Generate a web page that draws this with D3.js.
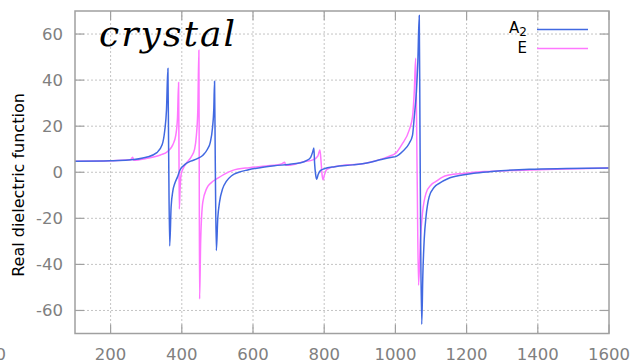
<!DOCTYPE html>
<html>
<head>
<meta charset="utf-8">
<script src="https://cdn.jsdelivr.net/npm/d3@7"></script>
<style>
body { margin: 0; background: #fff; }
svg { display: block; }
.tick-label { font-family: "DejaVu Sans", sans-serif; font-size: 16.5px; fill: #808080; }
</style>
</head>
<body>
<svg width="636" height="364"></svg>
<script>
// wavenumber (x) and real dielectric function (y)
var xA2 = [100, 200, 250, 300, 330, 345, 352, 357, 361, 363, 366, 370, 375, 380, 388, 395, 410, 425, 445, 460, 472, 480, 486, 490, 492, 494, 497, 501, 506, 515, 525, 540, 560, 585, 620, 660, 700, 730, 750, 762, 768, 771, 773, 776, 779, 783, 790, 800, 830, 880, 920, 960, 990, 1001, 1020, 1039, 1048, 1053, 1059, 1063, 1067, 1069, 1071, 1074, 1077, 1081, 1086, 1095, 1109, 1123, 1147, 1188, 1220, 1270, 1376, 1480, 1600];
var yA2 = [4.8, 5.0, 5.3, 6.5, 8.5, 12, 18, 27, 45, 10, -32, -15, -8, -5, -2, 1, 3.5, 4.8, 6, 7.5, 10, 13, 19, 28, 39.5, 5, -34, -20, -13, -7, -4, -1.5, 0, 1, 2, 2.8, 3.4, 4, 5, 6.5, 9, 10.5, 4, -1, -3, -1, 0.8, 1.5, 2.4, 3.2, 4, 5.5, 6.5, 6.8, 9, 12.6, 16, 24, 35, 48, 68, 20, -30, -66, -45, -29, -19.3, -10.6, -6.5, -4.8, -2.8, -1.2, -0.4, 0.3, 1.3, 1.6, 1.8];

var xE = [100, 200, 255, 262, 265, 300, 340, 360, 375, 383, 388, 391, 392, 393, 395, 398, 405, 413, 427, 436, 441, 445, 448, 449, 450, 453, 459, 470, 483, 501, 520, 543, 590, 637, 680, 689, 692, 700, 740, 770, 782, 788, 791, 794, 797, 801, 806, 815, 832, 916, 980, 1001, 1018, 1039, 1048, 1053, 1057, 1061, 1065, 1070, 1076, 1086, 1100, 1114, 1131, 1151, 1190, 1250, 1336, 1450, 1600];
var yE = [4.8, 5.0, 5.4, 6.5, 5.2, 6, 7.5, 9, 12, 16, 24, 39, 10, -16, -8, -1, 2, 4, 6.8, 10, 16, 27, 53, 0, -55, -30, -13, -7, -4.5, -2.6, -0.8, 0.8, 2, 2.7, 3.6, 4.3, 3, 3, 4.5, 5.5, 7, 9.7, 5, -1, -3.3, -1, 1, 1.8, 2.5, 3.9, 6.8, 8.3, 12, 18.4, 24, 35, 49.5, 0, -49, -30, -17.8, -9.1, -5.5, -4, -2.2, -1.2, -0.5, 0.3, 0.8, 1.3, 1.8];

var xTicks = [200, 400, 600, 800, 1000, 1200, 1400, 1600];
var yTicks = [-60, -40, -20, 0, 20, 40, 60];
var seriesNames = ["A", "E"];

var svg = d3.select("svg");
var m = {left: 75, right: 609, top: 11, bottom: 333.5};

var x = d3.scaleLinear().domain([100, 1600]).range([m.left, m.right]);
var y = d3.scaleLinear().domain([-70, 70]).range([m.bottom, m.top]);

// grid
var grid = svg.append("g");
grid.selectAll(".gx")
  .data(xTicks.filter(function(d) { return d < 1600; }))
  .enter().append("line")
  .attr("x1", function(d) { return x(d); })
  .attr("x2", function(d) { return x(d); })
  .attr("y1", m.top).attr("y2", m.bottom)
  .attr("stroke", "#c4c4c4").attr("stroke-width", 1)
  .attr("stroke-dasharray", "2,2");
grid.selectAll(".gy")
  .data(yTicks)
  .enter().append("line")
  .attr("x1", m.left).attr("x2", m.right)
  .attr("y1", function(d) { return y(d); })
  .attr("y2", function(d) { return y(d); })
  .attr("stroke", "#c4c4c4").attr("stroke-width", 1)
  .attr("stroke-dasharray", "2,2");

// inner ticks on all four sides
var tk = svg.append("g").attr("stroke", "#a0a0a0").attr("stroke-width", 1.2);
xTicks.forEach(function(d) {
  tk.append("line").attr("x1", x(d)).attr("x2", x(d)).attr("y1", m.bottom).attr("y2", m.bottom - 9);
  tk.append("line").attr("x1", x(d)).attr("x2", x(d)).attr("y1", m.top).attr("y2", m.top + 9);
});
yTicks.forEach(function(d) {
  tk.append("line").attr("x1", m.left).attr("x2", m.left + 9).attr("y1", y(d)).attr("y2", y(d));
  tk.append("line").attr("x1", m.right).attr("x2", m.right - 9).attr("y1", y(d)).attr("y2", y(d));
});

// tick labels
svg.append("g").selectAll("text")
  .data(xTicks).enter().append("text")
  .attr("class", "tick-label")
  .attr("x", function(d) { return x(d); })
  .attr("y", 360)
  .attr("text-anchor", "middle")
  .text(function(d) { return d; });
svg.append("text").attr("class", "tick-label")
  .attr("x", 6).attr("y", 360).attr("text-anchor", "end").text("0");

svg.append("g").selectAll("text")
  .data(yTicks).enter().append("text")
  .attr("class", "tick-label")
  .attr("x", 63)
  .attr("y", function(d) { return y(d) + 6; })
  .attr("text-anchor", "end")
  .text(function(d) { return d; });

// y label
svg.append("text")
  .attr("transform", "translate(24,185) rotate(-90)")
  .attr("text-anchor", "middle")
  .style("font-family", "DejaVu Sans, sans-serif")
  .style("font-size", "16px")
  .attr("fill", "#000")
  .text("Real dielectric function");

// curves
svg.append("clipPath").attr("id", "clip")
  .append("rect").attr("x", m.left).attr("y", m.top)
  .attr("width", m.right - m.left).attr("height", m.bottom - m.top);

var line = d3.line()
  .curve(d3.curveMonotoneX)
  .x(function(d) { return x(d[0]); })
  .y(function(d) { return y(d[1]); });

var dataE = d3.zip(xE, yE);
var dataA2 = d3.zip(xA2, yA2);

svg.append("path").datum(dataE)
  .attr("clip-path", "url(#clip)")
  .attr("fill", "none").attr("stroke", "#ff77ff").attr("stroke-width", 1.5)
  .attr("d", line);
svg.append("path").datum(dataA2)
  .attr("clip-path", "url(#clip)")
  .attr("fill", "none").attr("stroke", "#4169e1").attr("stroke-width", 1.5)
  .attr("d", line);

// border
svg.append("rect")
  .attr("x", m.left).attr("y", m.top)
  .attr("width", m.right - m.left).attr("height", m.bottom - m.top)
  .attr("fill", "none").attr("stroke", "#a0a0a0").attr("stroke-width", 1.5);

// title
svg.append("text")
  .attr("x", 99).attr("y", 46)
  .style("font-family", "DejaVu Serif, serif")
  .style("font-style", "italic")
  .style("font-size", "36px")
  .attr("textLength", 136)
  .attr("fill", "#000")
  .text("crystal");

// legend
var legend = svg.append("g")
  .style("font-family", "DejaVu Sans, sans-serif")
  .style("font-size", "15px");
var la = legend.append("text").attr("x", 527).attr("y", 33).attr("text-anchor", "end");
la.append("tspan").text(seriesNames[0]);
la.append("tspan").attr("dy", 3).style("font-size", "12px").text("2");
legend.append("text").attr("x", 527).attr("y", 53).attr("text-anchor", "end").text(seriesNames[1]);
legend.append("line").attr("x1", 537).attr("x2", 588).attr("y1", 29.5).attr("y2", 29.5)
  .attr("stroke", "#4169e1").attr("stroke-width", 1.5);
legend.append("line").attr("x1", 537).attr("x2", 588).attr("y1", 48.5).attr("y2", 48.5)
  .attr("stroke", "#ff77ff").attr("stroke-width", 1.5);
</script>
</body>
</html>
